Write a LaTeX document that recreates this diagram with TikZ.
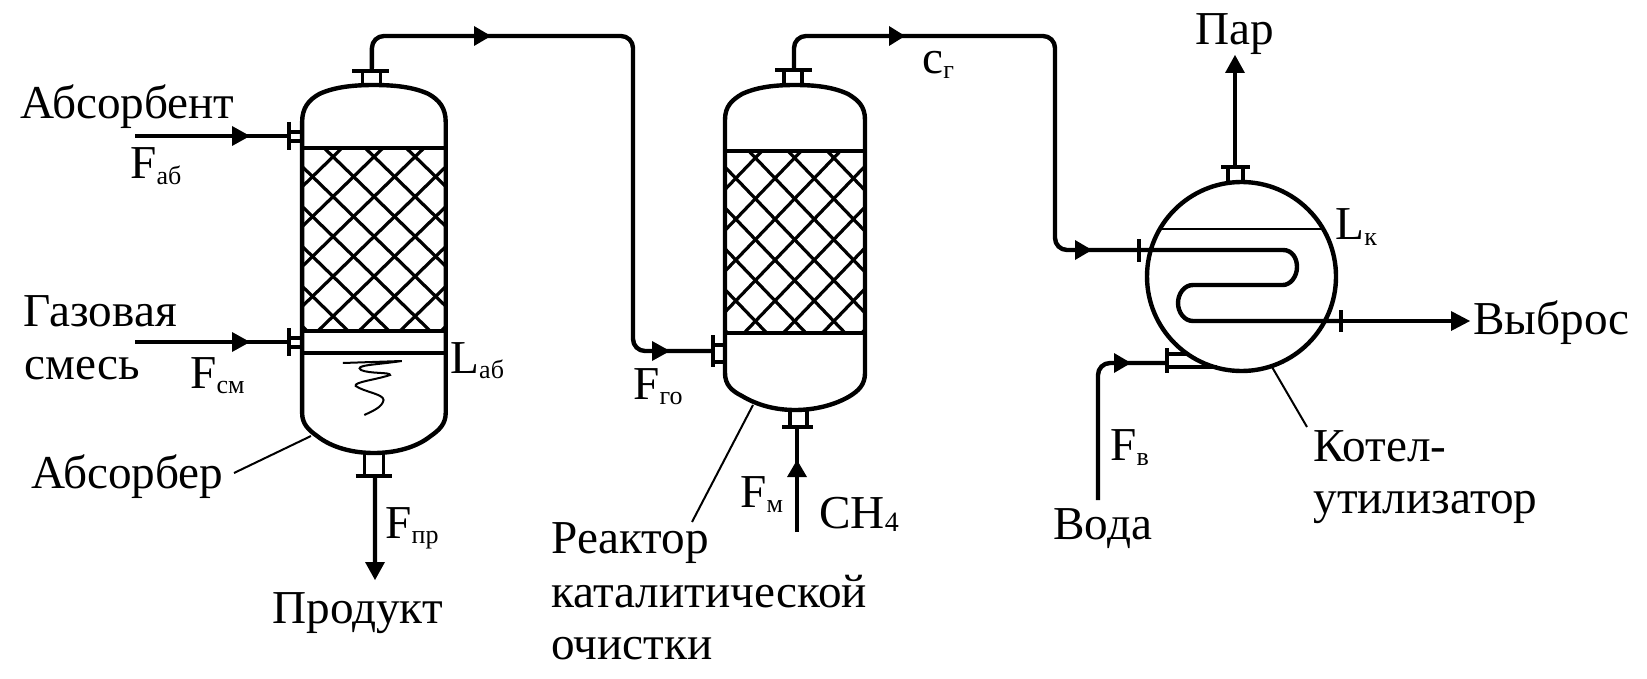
\documentclass[tikz,border=0pt]{standalone}
\usepackage{fontspec}
\setmainfont{Liberation Serif}
\newcommand{\sbs}[1]{\raisebox{-2.5pt}{\fontsize{13}{13}\selectfont #1}}
\tikzset{
 x=0.5pt,y=-0.5pt,
 wall/.style={line width=2.2pt,line join=round},
 thinwall/.style={line width=1.6pt},
 pipe/.style={line width=2.2pt,line join=round,rounded corners=6pt},
 head/.style={fill=black,draw=none},
 net/.style={line width=1.6pt},
 lead/.style={line width=1pt},
 lbl/.style={inner sep=0pt,font=\fontsize{23.6}{23.6}\selectfont,anchor=base west},
}
\begin{document}
\begin{tikzpicture}
\useasboundingbox (0,0) rectangle (1647,679);
\fill[white] (0,0) rectangle (1647,679);

% vessel 1
\begin{scope}[xscale=1.0714]
\begin{scope}
\clip (282,148) rectangle (416,331);
\foreach \k in {-5,...,3}{\draw[net] ({302.5+38.3*\k},148) -- ({302.5+38.3*\k+0.96*183},331);}
\foreach \k in {-2,...,6}{\draw[net] ({357.5+38.3*\k},148) -- ({357.5+38.3*\k-0.96*183},331);}
\end{scope}
\draw[wall] (282,413) -- (282,122) .. controls (282,108) and (288,100) .. (298,94) .. controls (312,87) and (330,85) .. (349,85) .. controls (368,85) and (386,87) .. (400,94) .. controls (410,100) and (416,108) .. (416,122) -- (416,413)
  .. controls (416,424) and (410,430) .. (402,436) .. controls (388,448) and (368,453) .. (349,453) .. controls (330,453) and (310,448) .. (296,436) .. controls (288,430) and (282,424) .. (282,413) -- cycle;
\draw[thinwall] (282,148) -- (416,148) (282,331) -- (416,331) (282,353) -- (416,353);
\draw[line width=1pt] (320,363) -- (375,361) .. controls (350,365) and (330,365) .. (337,370) .. controls (345,374) and (365,372) .. (364,375) .. controls (350,380) and (330,382) .. (332,386) .. controls (340,392) and (358,394) .. (358,400) .. controls (357,407) and (348,411) .. (340,415);
\draw[thinwall] (338,85) -- (338,71) (355,85) -- (355,71);
\draw[wall] (329,71) -- (363,71);
\coordinate (v1top) at (347,71);
\draw[thinwall] (270,132) -- (282,132) (270,141) -- (282,141);
\draw[wall] (270,122) -- (270,150);
\coordinate (v1a) at (270,136);
\draw[thinwall] (270,338) -- (282,338) (270,347) -- (282,347);
\draw[wall] (270,328) -- (270,356);
\coordinate (v1b) at (270,342);
\draw[thinwall] (340,453) -- (340,476) (358,453) -- (358,476);
\draw[wall] (332,476) -- (366,476);
\coordinate (v1bot) at (350,476);
\end{scope}

% vessel 2
\begin{scope}
\clip (725,151) rectangle (865,333);
\foreach \k in {-5,...,3}{\draw[net] ({748.8+39.2*\k},151) -- ({748.8+39.2*\k+0.96*182},333);}
\foreach \k in {-2,...,6}{\draw[net] ({801.2+39.2*\k},151) -- ({801.2+39.2*\k-0.96*182},333);}
\end{scope}
\draw[wall] (725,373) -- (725,120) .. controls (725,106) and (732,100) .. (742,94) .. controls (757,87) and (775,85) .. (795,85) .. controls (815,85) and (833,87) .. (848,94) .. controls (858,100) and (865,106) .. (865,120) -- (865,373)
 .. controls (865,385) and (858,391) .. (850,396) .. controls (835,405) and (815,410) .. (795,410) .. controls (775,410) and (757,405) .. (742,396) .. controls (732,391) and (725,385) .. (725,373) -- cycle;
\draw[thinwall] (725,151) -- (865,151) (725,333) -- (865,333);
\draw[thinwall] (784,85) -- (784,70) (802,85) -- (802,70);
\draw[wall] (775,70) -- (812,70);
\coordinate (v2top) at (794,70);
\draw[thinwall] (713,345) -- (725,345) (713,362) -- (725,362);
\draw[wall] (713,335) -- (713,367);
\coordinate (v2in) at (713,351);
\draw[thinwall] (790,410) -- (790,427) (807,410) -- (807,427);
\draw[wall] (782,427) -- (813,427);
\coordinate (v2bot) at (797,427);

% boiler
\coordinate (boil) at (1241.5,276.5);
\draw[wall] (boil) circle[radius=94.5];
\draw[line width=1pt] (1160,229) -- (1322,229);
\draw[thinwall] (1228,182) -- (1228,167) (1243,182) -- (1243,167);
\draw[wall] (1221,167) -- (1250,167);
\coordinate (btop) at (1235,167);
\draw[wall] (1139,239) -- (1139,262);
\draw[wall] (1341,310) -- (1341,332);
\coordinate (coilin) at (1139,250);
\coordinate (coilout) at (1341,321);
\draw[wall] (coilin) -- (1283,250) .. controls (1292,250) and (1297,258) .. (1297,267) .. controls (1297,277) and (1290,285) .. (1283,285) -- (1193,285) .. controls (1184,285) and (1178,294) .. (1178,303) .. controls (1178,312) and (1184,321) .. (1193,321) -- (coilout);
\draw[wall] (1167,348) -- (1167,373);
\draw[thinwall] (1167,354) -- (1186,354) (1167,367) -- (1217,367);
\coordinate (bin) at (1167,363);

% free ends
\coordinate (prod) at (375,565);
\coordinate (ch4) at (797,532);
\coordinate (par) at (1235,70);
\coordinate (vyb) at (1455,321);
\coordinate (voda) at (1098,500);
\coordinate (in1) at (135,136);
\coordinate (in2) at (135,342);

% connectors
\draw[pipe] (v1top) -- (372,36) -- (633,36) -- (633,351) -- (v2in);
\fill[head] (474,26) -- (491,36) -- (474,46) -- cycle;
\fill[head] (652,341) -- (670,351) -- (652,361) -- cycle;
\draw[pipe] (v2top) -- (794,36) -- (1055,36) -- (1055,250) -- (coilin);
\fill[head] (889,26) -- (905,36) -- (889,46) -- cycle;
\fill[head] (1075,240) -- (1092,250) -- (1075,260) -- cycle;
\draw[pipe] (in1) -- (v1a);
\fill[head] (232,126) -- (250,136) -- (232,146) -- cycle;
\draw[pipe] (in2) -- (v1b);
\fill[head] (232,332) -- (250,342) -- (232,352) -- cycle;
\draw[pipe] (v1bot) -- (prod);
\fill[head] (365,562) -- (375,580) -- (385,562) -- cycle;
\draw[pipe] (ch4) -- (v2bot);
\fill[head] (787,477) -- (797,460) -- (807,477) -- cycle;
\draw[pipe] (btop) -- (par);
\fill[head] (1225,73) -- (1235,55) -- (1245,73) -- cycle;
\draw[pipe] (coilout) -- (vyb);
\fill[head] (1451,311) -- (1470,321) -- (1451,331) -- cycle;
\draw[pipe] (voda) -- (1098,363) -- (bin);
\fill[head] (1114,353) -- (1131,363) -- (1114,373) -- cycle;

% leaders
\coordinate (l1a) at (311,436); \coordinate (l1b) at (234,473);
\draw[lead] (l1a) -- (l1b);
\coordinate (l2a) at (753,405); \coordinate (l2b) at (692,522);
\draw[lead] (l2a) -- (l2b);
\coordinate (l3a) at (1272,367); \coordinate (l3b) at (1307,427);
\draw[lead] (l3a) -- (l3b);

% labels
\node[lbl] (t1) at (20,119) {Абсорбент};
\node[lbl] (t2) at (23,326) {Газовая};
\node[lbl] (t3) at (24,379) {смесь};
\node[lbl] (t4) at (31,488) {Абсорбер};
\node[lbl] (t5) at (272,623) {Продукт};
\node[lbl] (t6) at (551,553) {Реактор};
\node[lbl] (t7) at (551,607) {каталитической};
\node[lbl] (t8) at (551,659) {очистки};
\node[lbl] (t9) at (1195,45) {Пар};
\node[lbl] (t10) at (1473,334) {Выброс};
\node[lbl] (t11) at (1313,461) {Котел-};
\node[lbl] (t12) at (1313,513) {утилизатор};
\node[lbl] (t13) at (1053,539) {Вода};
\node[lbl] (t14) at (819,528) {CH\raisebox{-1.5pt}{\fontsize{14}{14}\selectfont 4}};
\node[lbl] (f1) at (130,179) {F\sbs{аб}};
\node[lbl] (f2) at (190,388) {F\sbs{см}};
\node[lbl] (f3) at (450,373) {L\sbs{аб}};
\node[lbl] (f4) at (385,538) {F\sbs{пр}};
\node[lbl] (f5) at (633,399) {F\sbs{го}};
\node[lbl] (f6) at (740,507) {F\sbs{м}};
\node[lbl] (f7) at (922,74) {c\sbs{г}};
\node[lbl] (f8) at (1335,240) {L\sbs{к}};
\node[lbl] (f9) at (1110,460) {F\sbs{в}};
\end{tikzpicture}
\end{document}
